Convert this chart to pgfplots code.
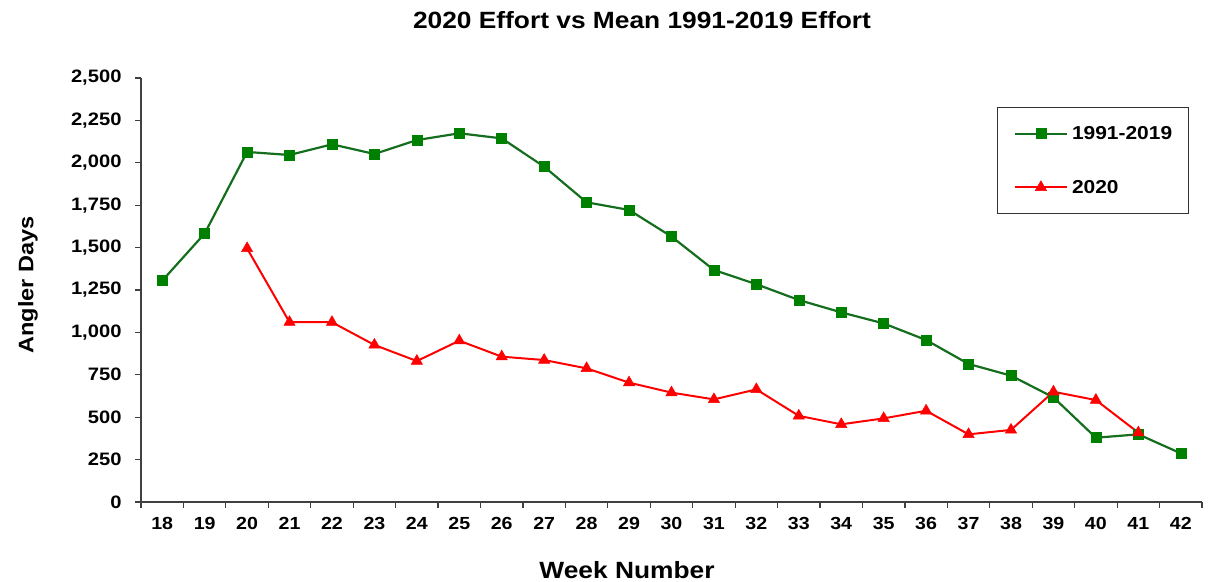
\documentclass[border=0pt]{standalone}
\usepackage{pgfplots}
\pgfplotsset{compat=1.18}
\usepackage{fontspec}
\setmainfont{Liberation Sans}[FakeStretch=1.12]
\definecolor{dgreen}{RGB}{0,128,0}
\definecolor{lgreen}{RGB}{20,110,30}
\begin{document}
\begin{tikzpicture}
\begin{axis}[
  at={(141bp,79bp)}, anchor=south west,
  scale only axis, width=1061bp, height=424bp,
  xmin=17.5, xmax=42.5, ymin=0, ymax=2500,
  axis lines=left, axis line style={-, line width=1.2pt, black!75},
  xtick={18,...,42}, major x tick style={draw=none},
  minor xtick={17.5,18.5,...,42.5},
  minor x tick style={line width=1.2pt, black!75},
  minor tick length=6bp,
  ytick={0,250,...,2500},
  major y tick style={line width=1.2pt, black!75},
  major tick length=6bp,
  tick align=outside,
  /pgf/number format/assume math mode=true,
  /pgf/number format/1000 sep={,},
  scaled y ticks=false,
  yticklabel style={font=\fontsize{18bp}{21bp}\selectfont\bfseries, xshift=-10bp},
  xticklabel style={font=\fontsize{17.5bp}{20bp}\selectfont\bfseries, yshift=-6bp},
  clip=false,
  legend style={at={(0.807,0.932)}, anchor=north west, draw=black!80, line width=1.2pt,
    font=\fontsize{18.7bp}{22bp}\selectfont\bfseries, inner xsep=16bp, inner ysep=19bp,
    row sep=39bp, column sep=4bp, nodes={inner sep=0pt}},
  legend cell align=left,
  legend image code/.code={\draw[mark repeat=2,mark phase=2,#1] plot coordinates {(0bp,0bp) (26bp,0bp) (52bp,0bp)};},
]
\addplot[color=lgreen, line width=2.2pt, mark=square*, mark size=5bp, mark options={fill=dgreen, draw=dgreen, line width=0.5pt}] coordinates {
(18,1305) (19,1583) (20,2064) (21,2046) (22,2109) (23,2052) (24,2134) (25,2174) (26,2144)
(27,1977) (28,1767) (29,1722) (30,1565) (31,1368) (32,1284) (33,1191) (34,1118) (35,1053)
(36,955) (37,814) (38,745) (39,617) (40,379) (41,399) (42,287)};
\addlegendentry{1991-2019}
\addplot[color=red, line width=2pt, mark=triangle*, mark size=6.5bp, mark options={fill=red, line width=0.5pt}] coordinates {
(20,1495) (21,1060) (22,1060) (23,926) (24,831) (25,951) (26,857) (27,837) (28,788)
(29,704) (30,645) (31,605) (32,664) (33,508) (34,458) (35,493) (36,538) (37,399)
(38,425) (39,650) (40,601) (41,409)};
\addlegendentry{2020}
\end{axis}
\node[font=\fontsize{23.5bp}{26bp}\selectfont\bfseries] at (642bp,561bp) {2020 Effort vs Mean 1991-2019 Effort};
\node[font=\fontsize{23.5bp}{26bp}\selectfont\bfseries] at (627bp,11bp) {Week Number};
\node[font=\fontsize{21bp}{24bp}\selectfont\bfseries, rotate=90] at (28bp,296bp) {Angler Days};
\path (0,0) rectangle (1227bp,581bp);
\end{tikzpicture}
\end{document}
